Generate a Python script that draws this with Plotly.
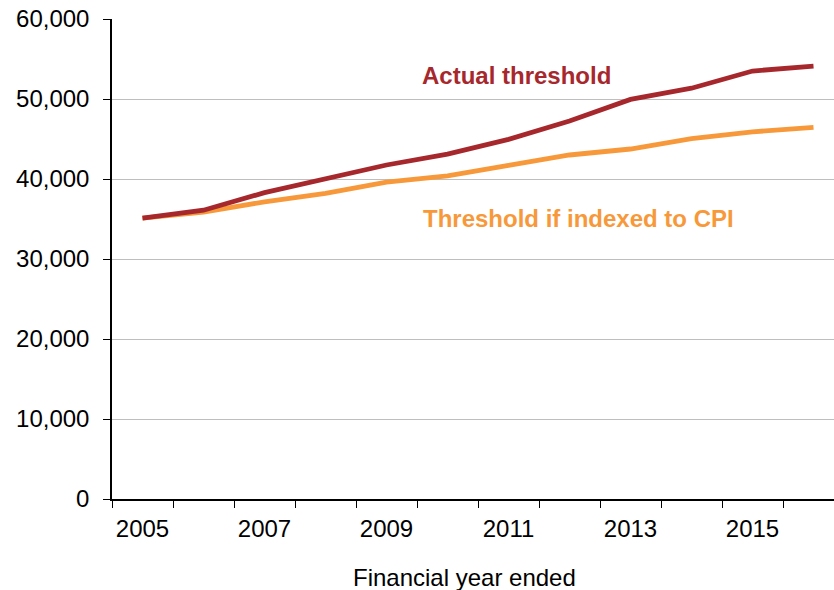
import plotly.graph_objects as go

years = [2005, 2006, 2007, 2008, 2009, 2010, 2011, 2012, 2013, 2014, 2015, 2016]
actual = [35100, 36100, 38300, 39950, 41750, 43100, 44950, 47250, 49950, 51350, 53500, 54100]
cpi = [35100, 35850, 37150, 38200, 39600, 40400, 41700, 43000, 43750, 45050, 45900, 46450]
label_years = [2005, 2007, 2009, 2011, 2013, 2015]
y_ticks = [0, 10000, 20000, 30000, 40000, 50000, 60000]

RED = "#A6282D"
ORANGE = "#F7993A"
FONT = "Liberation Sans, Arial, sans-serif"

W, H = 834, 590
L, T, PW, PH = 112, 19, 722, 480

def px(xpix):
    return (xpix - L) / PW

def py(ypix):
    return (T + PH - ypix) / PH

fig = go.Figure()
fig.add_trace(go.Scatter(x=years, y=cpi, mode="lines", line=dict(color=ORANGE, width=4.8),
                         showlegend=False, hoverinfo="skip"))
fig.add_trace(go.Scatter(x=years, y=actual, mode="lines", line=dict(color=RED, width=4.8),
                         showlegend=False, hoverinfo="skip"))

fig.add_annotation(x=px(516), y=py(75), xref="paper", yref="paper",
                   xanchor="center", yanchor="middle",
                   text="<b>Actual threshold</b>", showarrow=False,
                   font=dict(family=FONT, size=24, color=RED))
fig.add_annotation(x=px(578), y=py(219), xref="paper", yref="paper",
                   xanchor="center", yanchor="middle",
                   text="<b>Threshold if indexed to CPI</b>", showarrow=False,
                   font=dict(family=FONT, size=24, color=ORANGE))
fig.add_annotation(x=px(464), y=py(577), xref="paper", yref="paper",
                   xanchor="center", yanchor="middle",
                   text="Financial year ended", showarrow=False,
                   font=dict(family=FONT, size=24, color="#000000"))

fig.update_layout(
    width=W, height=H,
    margin=dict(l=L, r=W - L - PW, t=T, b=H - T - PH),
    paper_bgcolor="white", plot_bgcolor="white",
    font=dict(family=FONT, size=24, color="#000000"),
    xaxis=dict(
        range=[2004.5, 2004.5 + PW / 61], tickvals=label_years,
        ticktext=[str(y) for y in label_years], ticks="", showgrid=False,
        showline=True, linecolor="#000000", linewidth=1.5, zeroline=False,
        ticklabelstandoff=7,
        minor=dict(tickvals=[y - 0.5 for y in years] + [2016.5], ticks="outside",
                   ticklen=7, tickcolor="#000000", tickwidth=1, showgrid=False),
    ),
    yaxis=dict(
        range=[0, 60000], tickvals=y_ticks, tickformat=",d",
        ticks="outside", ticklen=7, tickcolor="#000000", tickwidth=1,
        showgrid=True, gridcolor="#BEBEBE", gridwidth=1.2,
        showline=True, linecolor="#000000", linewidth=1.5, zeroline=False,
        ticklabelstandoff=9, ticklabeloverflow="allow",
    ),
)

fig.write_html(
    "out.html",
    config={"displayModeBar": False},
    post_script="document.body.style.margin='0';document.body.style.overflow='hidden';",
)
